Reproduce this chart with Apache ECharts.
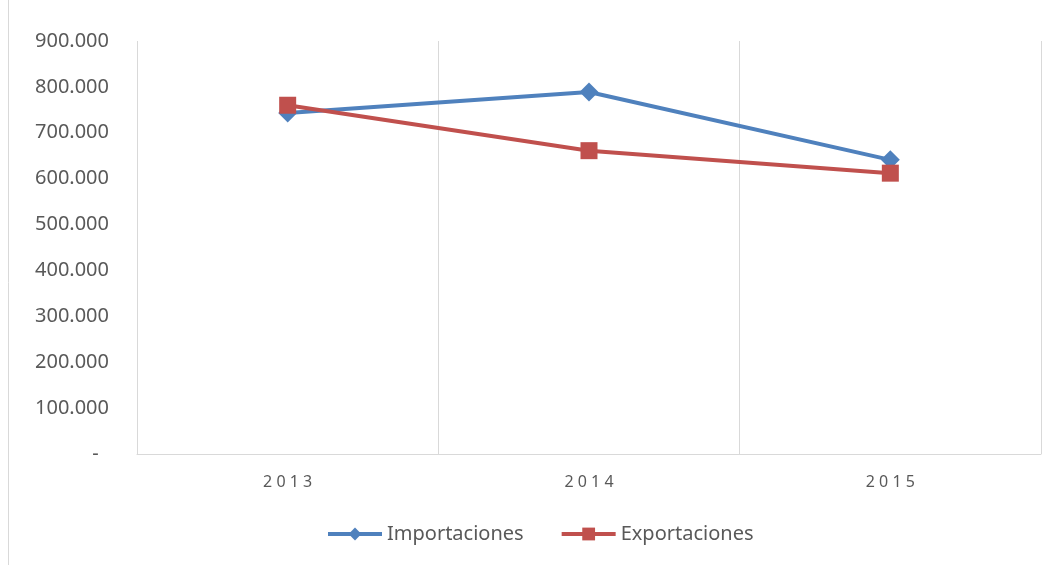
<!DOCTYPE html>
<html>
<head>
<meta charset="utf-8">
<script src="https://cdn.jsdelivr.net/npm/echarts@6/dist/echarts.min.js"></script>
<style>
  html, body { margin: 0; padding: 0; background: #fff; }
  #chart { width: 1059px; height: 565px; }
</style>
</head>
<body>
<div id="chart"></div>
<script>
// datos
var years = ['2013', '2014', '2015'];
var importaciones = [743000, 789000, 641000];
var exportaciones = [760000, 661000, 612000];
var yTicks = [0, 100000, 200000, 300000, 400000, 500000, 600000, 700000, 800000, 900000];

var chart = echarts.init(document.getElementById('chart'));

function fmtMiles(v) {
  if (v === 0) return '-  ';
  return String(v / 1000) + '.000';
}

var option = {
  backgroundColor: '#fff',
  animation: false,
  textStyle: { fontFamily: 'Noto Sans' },
  graphic: [{
    type: 'rect',
    shape: { x: 8.5, y: -5, width: 1100, height: 1000 },
    style: { fill: 'none', stroke: '#d9d9d9', lineWidth: 1 },
    silent: true
  }],
  grid: { left: 137, right: 18, top: 41, bottom: 111, containLabel: false },
  legend: {
    bottom: 16,
    left: 321,
    itemWidth: 54,
    itemHeight: 16,
    itemGap: 36,
    lineStyle: { width: 4 },
    textStyle: { fontSize: 20, color: '#595959' },
    data: ['Importaciones', 'Exportaciones']
  },
  xAxis: {
    type: 'category',
    data: years,
    boundaryGap: true,
    axisLine: { lineStyle: { color: '#d9d9d9', width: 1 } },
    axisTick: { show: false },
    splitLine: { show: true, lineStyle: { color: '#d9d9d9', width: 1 } },
    axisLabel: {
      color: '#595959',
      fontSize: 16,
      margin: 20,
      formatter: function (v) { return v.split('').join(' '); }
    }
  },
  yAxis: {
    type: 'value',
    min: 0,
    max: 900000,
    interval: 100000,
    axisLine: { show: false },
    axisTick: { show: false },
    splitLine: { show: false },
    axisLabel: {
      color: '#595959',
      fontSize: 20,
      margin: 28,
      formatter: function (v) {
        return yTicks.indexOf(v) >= 0 ? fmtMiles(v) : '';
      }
    }
  },
  series: [{
    name: 'Importaciones',
    type: 'line',
    data: importaciones,
    symbol: 'diamond',
    symbolSize: 19,
    lineStyle: { color: '#4f81bd', width: 4 },
    itemStyle: { color: '#4f81bd' },
    z: 2
  }, {
    name: 'Exportaciones',
    type: 'line',
    data: exportaciones,
    symbol: 'rect',
    symbolSize: 17,
    lineStyle: { color: '#c0504d', width: 4 },
    itemStyle: { color: '#c0504d' },
    z: 3
  }]
};

chart.setOption(option);
</script>
</body>
</html>
